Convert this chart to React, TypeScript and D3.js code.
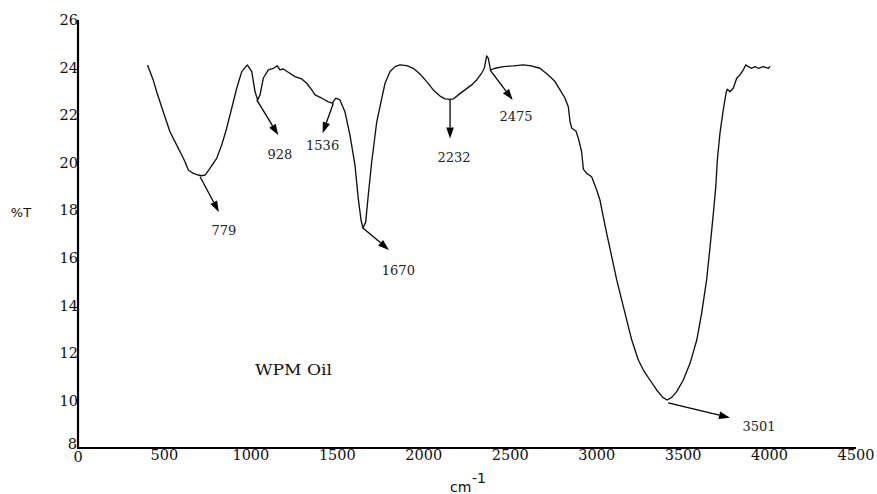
import React from "react";
import * as d3 from "d3";

const wavenumber = [402,435,455,493,532,571,600,619,638,667,696,715,735,763,802,831,860,889,918,947,979,1005,1024,1039,1053,1072,1101,1130,1153,1168,1187,1216,1255,1294,1323,1352,1371,1410,1448,1471,1491,1515,1544,1573,1602,1621,1637,1648,1664,1679,1699,1728,1757,1776,1805,1834,1862,1901,1939,1978,2017,2055,2094,2123,2152,2171,2200,2238,2277,2306,2335,2350,2364,2373,2386,2412,2460,2518,2576,2614,2672,2720,2759,2788,2817,2836,2846,2856,2880,2894,2913,2923,2942,2971,3000,3019,3038,3058,3087,3116,3145,3174,3203,3241,3270,3308,3347,3382,3408,3434,3463,3501,3540,3579,3607,3636,3656,3675,3689,3698,3713,3732,3748,3755,3771,3790,3810,3829,3848,3862,3877,3897,3916,3935,3964,3993,4003];
const transmittance = [24.11,23.48,22.98,22.14,21.3,20.74,20.32,20.04,19.69,19.55,19.48,19.45,19.48,19.76,20.18,20.74,21.45,22.29,23.13,23.83,24.11,23.83,22.98,22.64,22.85,23.56,23.9,23.97,24.07,23.9,23.94,23.8,23.62,23.52,23.34,23.06,22.85,22.71,22.56,22.5,22.71,22.64,22.14,21.16,19.9,18.5,17.59,17.25,17.5,18.64,20.04,21.72,22.7,23.34,23.83,24.04,24.11,24.08,23.97,23.73,23.41,23.06,22.8,22.68,22.66,22.68,22.85,23.06,23.27,23.48,23.77,23.97,24.49,24.4,23.9,23.97,24.04,24.07,24.11,24.08,23.97,23.69,23.41,23.06,22.71,22.35,21.72,21.45,21.33,21.03,20.46,19.73,19.55,19.41,18.85,18.43,17.73,17.03,16.05,15.07,14.22,13.38,12.54,11.7,11.28,10.86,10.44,10.13,10.02,10.13,10.37,10.86,11.56,12.54,13.66,15.07,16.47,17.87,18.99,20.11,21.23,22.21,22.92,23.09,22.98,23.13,23.55,23.69,23.9,24.11,24.04,23.97,24.04,23.97,24.04,23.97,24.04,24.08,24.11];

const xTicks = [0,500,1000,1500,2000,2500,3000,3500,4000,4500];
const yTicks = [8,10,12,14,16,18,20,22,24,26];

const peakLabels = ["779","928","1536","1670","2232","2475","3501"];
const arrowFromX = [706,1034,1477,1648,2152,2383,3414];
const arrowFromY = [19.41,22.64,22.5,17.25,22.64,23.9,9.9];
const arrowToX = [815,1158,1415,1799,2152,2514,3771];
const arrowToY = [17.93,21.16,21.24,16.33,21.02,22.64,9.27];
const labelX = [844,1168,1415,1853,2175,2533,3939];
const labelY = [17.17,20.36,20.74,15.46,20.23,21.93,8.9];

const sampleName = "WPM Oil";
const sampleX = 1024;
const sampleY = 11.28;

export default function App() {
  const W = 877, H = 494;
  const x = d3.scaleLinear().domain([0, 4500]).range([78, 856]);
  const y = d3.scaleLinear().domain([8, 26]).range([448, 20]);
  const pts: [number, number][] = wavenumber.map((w, i) => [w, transmittance[i]]);
  const line = d3.line<[number, number]>().x(d => x(d[0])).y(d => y(d[1]));

  const arrows = peakLabels.map((lab, i) => {
    const x1 = x(arrowFromX[i]), y1 = y(arrowFromY[i]);
    const x2 = x(arrowToX[i]), y2 = y(arrowToY[i]);
    const ang = Math.atan2(y2 - y1, x2 - x1);
    const L = 11, hw = 3.8;
    const bx = x2 - L * Math.cos(ang), by = y2 - L * Math.sin(ang);
    const px = -Math.sin(ang) * hw, py = Math.cos(ang) * hw;
    const head = `M${x2},${y2}L${bx + px},${by + py}L${bx - px},${by - py}Z`;
    return { lab, x1, y1, bx, by, head, lx: x(labelX[i]), ly: y(labelY[i]) };
  });

  const serif = "'DejaVu Serif', serif";
  const sans = "'DejaVu Sans', sans-serif";

  return (
    <svg width={W} height={H} style={{ position: "absolute", left: 0, top: 0, background: "#fff" }}>
      <rect x={0} y={0} width={W} height={H} fill="#fff" />
      <path d={line(pts) || ""} fill="none" stroke="#111" strokeWidth={1.35} strokeLinejoin="round" />
      <line x1={x(0)} x2={x(0)} y1={y(26)} y2={y(8) + 1} stroke="#000" strokeWidth={2.2} />
      <line x1={x(0)} x2={x(4500)} y1={y(8)} y2={y(8)} stroke="#000" strokeWidth={2.2} />
      {yTicks.map(t => (
        <text key={"y" + t} x={x(0) - (t === 8 ? 1 : 0)} y={y(t) - (t === 8 ? 4 : 0)} dy="0.36em" textAnchor="end" fontFamily={serif} fontSize={14.5} fill="#111">{t}</text>
      ))}
      {xTicks.map(t => (
        <text key={"x" + t} x={x(t)} y={y(8) + (t === 0 ? 9 : 7)} dy="0.36em" textAnchor="middle" fontFamily={serif} fontSize={14.5} fill="#111">{t}</text>
      ))}
      <text x={21} y={212} dy="0.36em" textAnchor="middle" fontFamily={sans} fontSize={13} fill="#111">%T</text>
      <text x={450} y={492} fontFamily={sans} fontSize={14} fill="#111">cm</text>
      <text x={472} y={483} fontFamily={sans} fontSize={14} fill="#111">-1</text>
      {arrows.map(a => (
        <g key={a.lab}>
          <line x1={a.x1} y1={a.y1} x2={a.bx} y2={a.by} stroke="#000" strokeWidth={1.3} />
          <path d={a.head} fill="#000" />
          <text x={a.lx} y={a.ly} dy="0.36em" textAnchor="middle" fontFamily={serif} fontSize={13} fill="#222">{a.lab}</text>
        </g>
      ))}
      <text x={x(sampleX)} y={y(sampleY)} dy="0.36em" fontFamily={serif} fontSize={15} textLength={77} lengthAdjust="spacingAndGlyphs" fill="#111">{sampleName}</text>
    </svg>
  );
}
